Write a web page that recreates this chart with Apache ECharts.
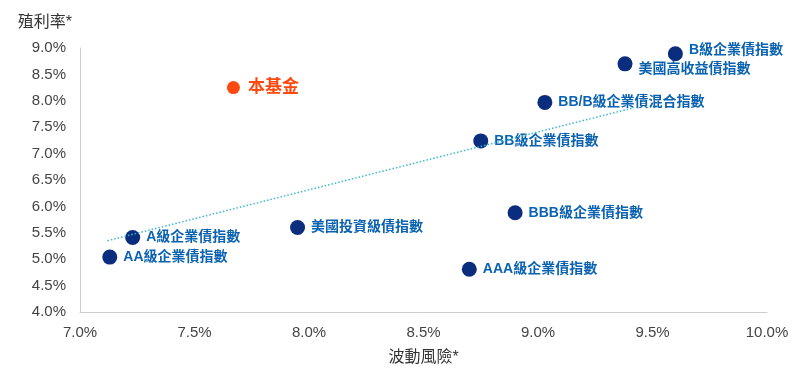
<!DOCTYPE html>
<html>
<head>
  <meta http-equiv="Content-Type" content="text/html; charset=utf-8"/>
  <title>殖利率 vs 波動風險</title>
  <script src="https://cdn.jsdelivr.net/npm/echarts@6/dist/echarts.min.js"></script>
</head>
<body style="margin:0">
<div id="chart" style="width:800px;height:378px;"></div>
<script type="text/javascript">
// 指數名稱, 波動風險(%), 殖利率(%)
var indexNames = ['B級企業債指數', '美國高收益債指數', 'BB/B級企業債混合指數', 'BB級企業債指數',
  'BBB級企業債指數', '美國投資級債指數', 'A級企業債指數', 'AA級企業債指數', 'AAA級企業債指數'];
var indexRisk = [9.60, 9.38, 9.03, 8.75, 8.90, 7.95, 7.23, 7.13, 8.70];
var indexYield = [8.89, 8.70, 7.97, 7.24, 5.88, 5.60, 5.41, 5.04, 4.81];
// small label nudges so the two top labels don't collide
var labelShift = [-4, 5, 0, 0, 0, 0, 0, 0, 0];

var fundName = '本基金';
var fundRisk = [7.67];
var fundYield = [8.25];

// trend line end points
var trendRisk = [7.12, 9.42];
var trendYield = [5.35, 7.87];

var indexData = [];
for (var i = 0; i < indexNames.length; i++) {
  indexData.push({name: indexNames[i], value: [indexRisk[i], indexYield[i]],
    label: {offset: [0, labelShift[i]]}});
}
var trendData = [];
for (var j = 0; j < trendRisk.length; j++) {
  trendData.push([trendRisk[j], trendYield[j]]);
}

var font = '"Liberation Sans", Arial, "Noto Sans CJK TC", sans-serif';
var chart = echarts.init(document.getElementById('chart'));
chart.setOption({
  animation: false,
  textStyle: {fontFamily: font},
  grid: {left: 80, right: 33, top: 48, bottom: 66},
  xAxis: {
    type: 'value', min: 7, max: 10, interval: 0.5,
    name: '波動風險*', nameLocation: 'middle', nameGap: 38,
    nameTextStyle: {color: '#333', fontSize: 16},
    axisLine: {show: true, lineStyle: {color: '#cccccc'}},
    axisTick: {show: false},
    splitLine: {show: false},
    axisLabel: {color: '#444', fontSize: 15, margin: 13,
      formatter: function (v) { return v.toFixed(1) + '%'; }}
  },
  yAxis: {
    type: 'value', min: 4, max: 9, interval: 0.5,
    name: '殖利率*', nameLocation: 'end', nameGap: 17,
    nameTextStyle: {color: '#333', fontSize: 16, align: 'right', padding: [0, 8, 0, 0]},
    axisLine: {show: true, lineStyle: {color: '#cccccc'}},
    axisTick: {show: false},
    splitLine: {show: false},
    axisLabel: {color: '#444', fontSize: 15, margin: 14,
      formatter: function (v) { return v.toFixed(1) + '%'; }}
  },
  series: [
    {
      type: 'line', data: trendData, symbol: 'none', silent: true,
      lineStyle: {color: '#3db8d0', width: 1.5, type: [1.5, 2]}
    },
    {
      type: 'scatter', data: indexData, symbolSize: 15,
      itemStyle: {color: '#0a2d7e', opacity: 1},
      label: {show: true, position: 'right', distance: 6, color: '#0a62b0',
        fontSize: 14, fontWeight: 'bold',
        formatter: function (p) { return p.name; }}
    },
    {
      type: 'scatter', data: [{name: fundName, value: [fundRisk[0], fundYield[0]]}], symbolSize: 13,
      itemStyle: {color: '#ff4a0f', opacity: 1},
      label: {show: true, position: 'right', distance: 8, color: '#ff4a0f',
        fontSize: 17, fontWeight: 'bold',
        formatter: function (p) { return p.name; }}
    }
  ]
});
</script>
</body>
</html>
